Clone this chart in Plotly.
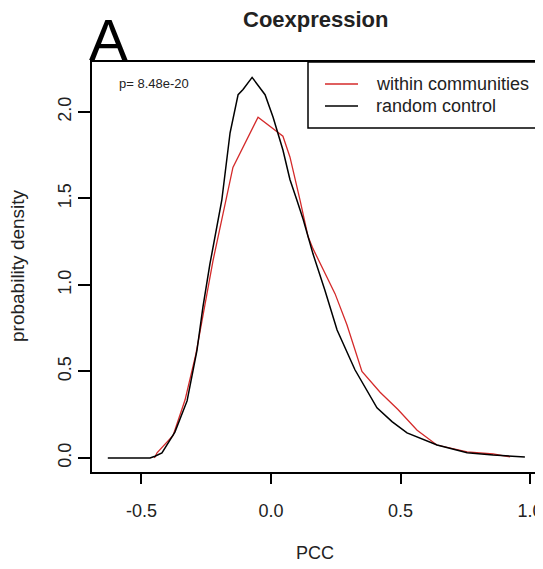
import plotly.graph_objects as go

# PCC values and densities
control_x = [-0.63, -0.467, -0.448, -0.421, -0.371, -0.324, -0.286, -0.263, -0.236, -0.19,
             -0.158, -0.127, -0.108, -0.073, -0.023, 0.008, 0.046, 0.073, 0.10, 0.124,
             0.162, 0.208, 0.255, 0.324, 0.409, 0.467, 0.525, 0.641, 0.757, 0.857, 0.98]
control_y = [0.0, 0.0, 0.01, 0.03, 0.15, 0.33, 0.62, 0.87, 1.12, 1.49,
             1.88, 2.10, 2.13, 2.20, 2.10, 1.97, 1.78, 1.61, 1.49, 1.38,
             1.18, 0.97, 0.74, 0.51, 0.29, 0.21, 0.145, 0.075, 0.03, 0.017, 0.006]

within_x = [-0.45, -0.44, -0.378, -0.332, -0.29, -0.26, -0.224, -0.147, -0.05, 0.046,
            0.073, 0.112, 0.143, 0.162, 0.247, 0.293, 0.351, 0.421, 0.49, 0.564,
            0.64, 0.757, 0.857, 0.923]
within_y = [0.0, 0.03, 0.13, 0.335, 0.60, 0.85, 1.14, 1.68, 1.97, 1.86,
            1.74, 1.49, 1.28, 1.21, 0.95, 0.77, 0.50, 0.38, 0.28, 0.16,
            0.075, 0.035, 0.023, 0.006]

series_names = ["within communities", "random control"]
series_colors = ["#d42a2a", "black"]

x_ticks = [-0.5, 0.0, 0.5, 1.0]
y_ticks = [0.0, 0.5, 1.0, 1.5, 2.0]

FONT = "Liberation Sans, Arial, sans-serif"
TXT = "#222"

fig = go.Figure()
fig.add_trace(go.Scatter(x=within_x, y=within_y, mode="lines", name=series_names[0],
                         line=dict(color=series_colors[0], width=1.3), showlegend=False))
fig.add_trace(go.Scatter(x=control_x, y=control_y, mode="lines", name=series_names[1],
                         line=dict(color=series_colors[1], width=1.5), showlegend=False))

# plot area in screen pixels: x 92..542, y 62..472 (page has an 8px body margin)
def px_x(p):
    return (p - 92) / 450

def px_y(p):
    return (472 - p) / 410

# legend drawn as a boxed key in the upper right corner
shapes = [dict(type="rect", xref="paper", yref="paper",
               x0=px_x(308), x1=1, y0=px_y(128), y1=1,
               line=dict(color="black", width=1.5), fillcolor="white", layer="above")]
annotations = []
for i, (nm, col) in enumerate(zip(series_names, series_colors)):
    yy = px_y(84 + 22 * i)
    shapes.append(dict(type="line", xref="paper", yref="paper",
                       x0=px_x(325), x1=px_x(358), y0=yy, y1=yy,
                       line=dict(color=col, width=1.5), layer="above"))
    annotations.append(dict(text=nm, x=px_x(374), y=yy, xref="paper", yref="paper",
                            xanchor="left", yanchor="middle", showarrow=False,
                            font=dict(size=18, color=TXT, family=FONT)))

annotations += [
    dict(text="<b>Coexpression</b>", x=px_x(316), y=px_y(20), xref="paper", yref="paper",
         xanchor="center", yanchor="middle", showarrow=False,
         font=dict(size=22, color=TXT, family=FONT)),
    dict(text="A", x=px_x(108), y=px_y(40), xref="paper", yref="paper",
         xanchor="center", yanchor="middle", showarrow=False,
         font=dict(size=58, color="black", family=FONT)),
    dict(text="p= 8.48e-20", x=px_x(117), y=px_y(83), xref="paper", yref="paper",
         xanchor="left", yanchor="middle", showarrow=False,
         font=dict(size=13, color=TXT, family=FONT)),
    dict(text="probability density", x=px_x(17), y=px_y(266),
         xref="paper", yref="paper", xanchor="center", yanchor="middle",
         textangle=-90, showarrow=False, font=dict(size=19, color=TXT, family=FONT)),
    dict(text="PCC", x=px_x(315), y=px_y(553),
         xref="paper", yref="paper", xanchor="center", yanchor="middle",
         showarrow=False, font=dict(size=18, color=TXT, family=FONT)),
]

fig.update_layout(
    width=535, height=561,
    margin=dict(l=84, r=1, t=54, b=97, autoexpand=False),
    paper_bgcolor="white", plot_bgcolor="white",
    font=dict(family=FONT, color=TXT),
    showlegend=False,
    xaxis=dict(range=[-0.691, 1.046], tickvals=x_ticks, ticktext=["-0.5", "0.0", "0.5", "1.0"],
               showgrid=False, zeroline=False, showline=True, linecolor="black", linewidth=1.5,
               mirror=True, ticks="outside", ticklen=10, tickwidth=1.5, tickcolor="black",
               tickfont=dict(size=18, color=TXT), ticklabelstandoff=12, automargin=False),
    yaxis=dict(range=[-0.081, 2.289], tickvals=y_ticks, ticktext=["0.0", "0.5", "1.0", "1.5", "2.0"],
               showgrid=False, zeroline=False, showline=True, linecolor="black", linewidth=1.5,
               mirror=True, ticks="outside", ticklen=12, tickwidth=1.5, tickcolor="black",
               tickangle=-90, tickfont=dict(size=18, color=TXT), ticklabelstandoff=0,
               automargin=False),
    shapes=shapes,
    annotations=annotations,
)

fig.write_html("out.html")
